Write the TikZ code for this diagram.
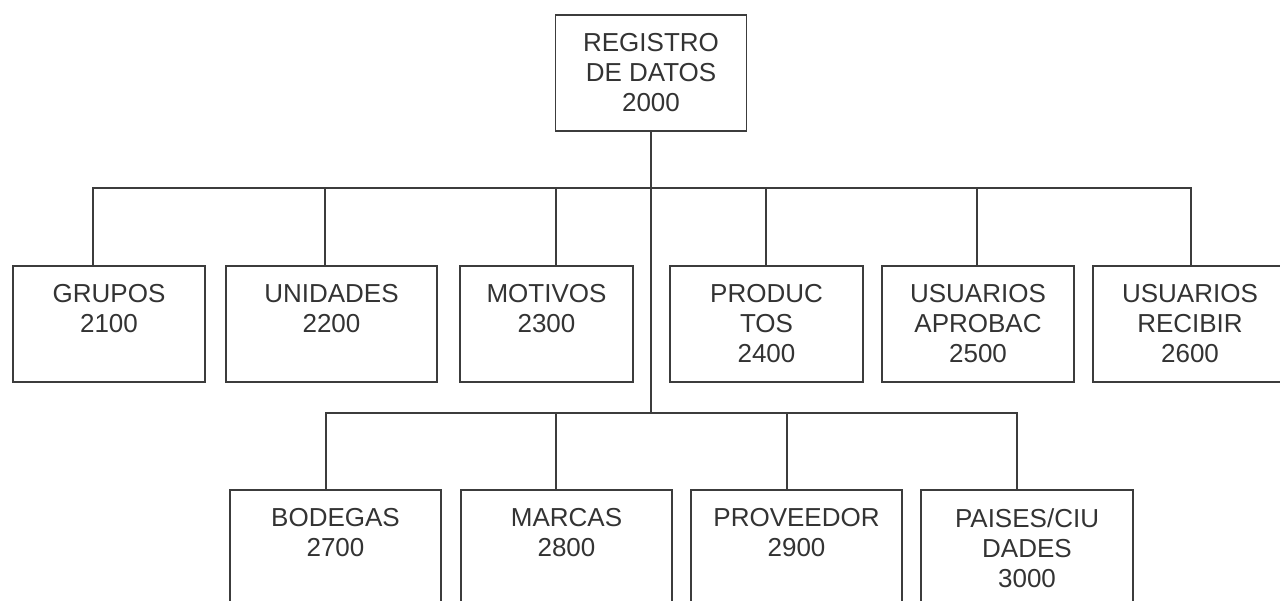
\documentclass[tikz,border=0pt]{standalone}
\usepackage{fontspec}
\setmainfont{Liberation Sans}
\usepackage{tikz}
\definecolor{ink}{HTML}{333333}
\definecolor{line}{HTML}{3C3C3C}

\begin{document}
\begin{tikzpicture}[x=1pt,y=-1pt]
\tikzset{box/.style = {shape=rectangle,draw=line,line width=1.3pt,text=ink,align=center,
    minimum height=116pt,font=\fontsize{26}{30}\selectfont},
  wire/.style = {draw=line,line width=1.3pt},
  elbow/.style = {to path={|- (\tikztotarget)}}}

\clip (0,0) rectangle (1280,600);

\node[box,minimum width=191pt] (A) at (651,73) {REGISTRO\\DE DATOS\\2000};
\node[box,minimum width=192pt] (B) at (109,324) {GRUPOS\\2100\\\phantom{0}};
\node[box,minimum width=211pt] (C) at (331.5,324) {UNIDADES\\2200\\\phantom{0}};
\node[box,minimum width=173pt] (D) at (546.5,324) {MOTIVOS\\2300\\\phantom{0}};
\node[box,minimum width=193pt] (E) at (766.5,324) {PRODUC\\TOS\\2400};
\node[box,minimum width=192pt] (F) at (978,324) {USUARIOS\\APROBAC\\2500};
\node[box,minimum width=194pt] (G) at (1190,324) {USUARIOS\\RECIBIR\\2600};
\node[box,minimum width=211pt] (H) at (335.5,548) {BODEGAS\\2700\\\phantom{0}};
\node[box,minimum width=211pt] (I) at (566.5,548) {MARCAS\\2800\\\phantom{0}};
\node[box,minimum width=211pt] (J) at (796.5,548) {PROVEEDOR\\2900\\\phantom{0}};
\node[box,minimum width=212pt] (K) at (1027,548) {PAISES/CIU\\DADES\\3000};

\coordinate (P) at (651,188);
\coordinate (Q) at (651,413);

\draw [wire] (A) -- (Q);

\path [wire]

([xshift=-16pt]B.north) edge[elbow] (P)
([xshift=-6.5pt]C.north) edge[elbow] (P)
([xshift=9.5pt]D.north) edge[elbow] (P)
([xshift=-0.5pt]E.north) edge[elbow] (P)
([xshift=-1pt]F.north) edge[elbow] (P)
([xshift=1pt]G.north) edge[elbow] (P)
([xshift=-9.5pt]H.north) edge[elbow] (Q)
([xshift=-10.5pt]I.north) edge[elbow] (Q)
([xshift=-9.5pt]J.north) edge[elbow] (Q)
([xshift=-10pt]K.north) edge[elbow] (Q)
;

\end{tikzpicture}
\end{document}
